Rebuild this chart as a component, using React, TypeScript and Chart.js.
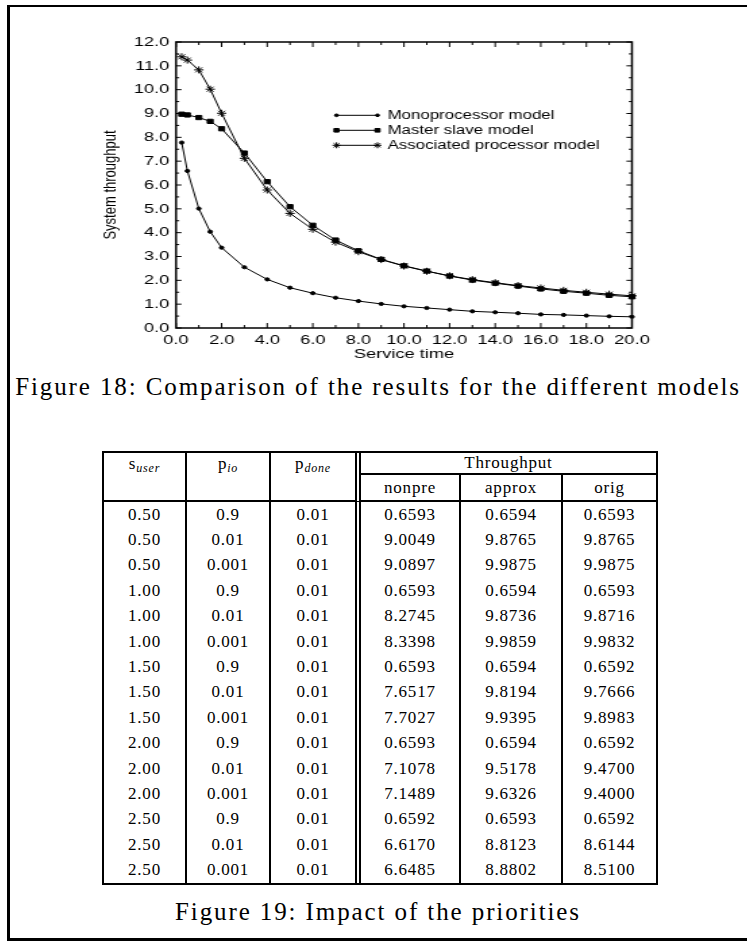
import React, { useEffect, useRef } from 'react';
import { Chart, registerables } from 'chart.js';
import { drawPoint } from 'chart.js/helpers';

Chart.register(...registerables);

// ---------- chart data ----------
const serviceTime = [0.25, 0.5, 1, 1.5, 2, 3, 4, 5, 6, 7, 8, 9, 10, 11, 12, 13, 14, 15, 16, 17, 18, 19, 20];
const monoprocessor = [7.78, 6.59, 5.01, 4.04, 3.37, 2.55, 2.04, 1.69, 1.46, 1.27, 1.13, 1.01, 0.91, 0.84, 0.77, 0.70, 0.66, 0.62, 0.57, 0.55, 0.52, 0.49, 0.47];
const masterSlave = [8.97, 8.94, 8.83, 8.67, 8.36, 7.34, 6.14, 5.09, 4.31, 3.69, 3.24, 2.88, 2.61, 2.39, 2.18, 2.01, 1.88, 1.76, 1.64, 1.54, 1.46, 1.37, 1.31];
const associated = [11.38, 11.24, 10.83, 10.02, 9.01, 7.12, 5.79, 4.81, 4.14, 3.60, 3.20, 2.87, 2.60, 2.38, 2.19, 2.03, 1.90, 1.78, 1.68, 1.58, 1.50, 1.42, 1.35];
const seriesLabels = ['Monoprocessor model', 'Master slave model', 'Associated processor model'];
const xTickValues = [0, 2, 4, 6, 8, 10, 12, 14, 16, 18, 20];
const yTickValues = [0, 1, 2, 3, 4, 5, 6, 7, 8, 9, 10, 11, 12];
const xAxisTitle = 'Service time';
const yAxisTitle = 'System throughput';

// ---------- table data ----------
const sUser = ['0.50', '0.50', '0.50', '1.00', '1.00', '1.00', '1.50', '1.50', '1.50', '2.00', '2.00', '2.00', '2.50', '2.50', '2.50'];
const pIo = ['0.9', '0.01', '0.001', '0.9', '0.01', '0.001', '0.9', '0.01', '0.001', '0.9', '0.01', '0.001', '0.9', '0.01', '0.001'];
const pDone = ['0.01', '0.01', '0.01', '0.01', '0.01', '0.01', '0.01', '0.01', '0.01', '0.01', '0.01', '0.01', '0.01', '0.01', '0.01'];
const nonpre = ['0.6593', '9.0049', '9.0897', '0.6593', '8.2745', '8.3398', '0.6593', '7.6517', '7.7027', '0.6593', '7.1078', '7.1489', '0.6592', '6.6170', '6.6485'];
const approx = ['0.6594', '9.8765', '9.9875', '0.6594', '9.8736', '9.9859', '0.6594', '9.8194', '9.9395', '0.6594', '9.5178', '9.6326', '0.6593', '8.8123', '8.8802'];
const orig = ['0.6593', '9.8765', '9.9875', '0.6593', '9.8716', '9.9832', '0.6592', '9.7666', '9.8983', '0.6592', '9.4700', '9.4000', '0.6592', '8.6144', '8.5100'];

const caption18 = 'Figure 18: Comparison of the results for the different models';
const caption19 = 'Figure 19: Impact of the priorities';

// ---------- layout ----------
const SANS = "'Liberation Sans', Arial, Helvetica, sans-serif";
const SERIF = "'Liberation Serif', 'Times New Roman', serif";
const STRETCH = 1.35;
const CANVAS_LEFT = 40;
const CANVAS_TOP = 20;
const CANVAS_W = 489;
const CANVAS_H = 350;

const framePlugin = {
  id: 'frameTicks',
  beforeDatasetsDraw(chart: any) {
    const { ctx, chartArea } = chart;
    const { left, right, top, bottom } = chartArea;
    const xs = chart.scales.x;
    const ys = chart.scales.y;
    ctx.save();
    ctx.strokeStyle = '#000';
    ctx.lineWidth = 1.5;
    ctx.strokeRect(left, top, right - left, bottom - top);
    ctx.lineWidth = 1;
    const yMinor = yTickValues.slice(1).map((v, i) => (v + yTickValues[i]) / 2);
    const xMinor = xTickValues.slice(1).map((v, i) => (v + xTickValues[i]) / 2);
    const hMajor = 4.1, hMinor = 2.4, vMajor = 5, vMinor = 3;
    ctx.beginPath();
    const yTick = (v: number, len: number) => {
      const py = ys.getPixelForValue(v);
      ctx.moveTo(left, py); ctx.lineTo(left + len, py);
      ctx.moveTo(right, py); ctx.lineTo(right - len, py);
    };
    const xTick = (v: number, len: number) => {
      const px = xs.getPixelForValue(v);
      ctx.moveTo(px, bottom); ctx.lineTo(px, bottom - len);
      ctx.moveTo(px, top); ctx.lineTo(px, top + len);
    };
    yTickValues.forEach((v) => yTick(v, hMajor));
    yMinor.forEach((v) => yTick(v, hMinor));
    xTickValues.forEach((v) => xTick(v, vMajor));
    xMinor.forEach((v) => xTick(v, vMinor));
    ctx.stroke();
    ctx.restore();
  },
};

const legendPlugin = {
  id: 'lineLegend',
  afterDraw(chart: any) {
    const { ctx } = chart;
    const x1 = 219.6, x2 = 250, tx = 257.4, y0 = 95.3, row = 15;
    chart.data.datasets.forEach((ds: any, i: number) => {
      const y = y0 + i * row;
      ctx.save();
      ctx.strokeStyle = '#000';
      ctx.fillStyle = '#000';
      ctx.lineWidth = 1;
      ctx.beginPath();
      ctx.moveTo(x1, y);
      ctx.lineTo(x2, y);
      ctx.stroke();
      const opts = { pointStyle: ds.pointStyle, radius: ds.pointRadius * 0.85, borderWidth: ds.pointBorderWidth, rotation: 0 };
      drawPoint(ctx, opts, x1, y);
      drawPoint(ctx, opts, x2, y);
      ctx.font = `12.5px ${SANS}`;
      ctx.textAlign = 'left';
      ctx.textBaseline = 'middle';
      ctx.fillText(ds.label, tx, y);
      ctx.restore();
    });
  },
};

function ThroughputChart() {
  const ref = useRef<HTMLCanvasElement | null>(null);
  useEffect(() => {
    if (!ref.current) return;
    const mk = (vals: number[]) => serviceTime.map((x, i) => ({ x, y: vals[i] }));
    const common = {
      borderColor: '#000',
      backgroundColor: '#000',
      pointBackgroundColor: '#000',
      pointBorderColor: '#000',
      borderWidth: 1,
      tension: 0,
      fill: false,
      clip: false as any,
    };
    const tickFont = { family: SANS, size: 13.5 };
    const chart = new Chart(ref.current, {
      type: 'line',
      data: {
        datasets: [
          { ...common, label: seriesLabels[0], data: mk(monoprocessor), pointStyle: 'circle', pointRadius: 1.6, pointBorderWidth: 1 },
          { ...common, label: seriesLabels[1], data: mk(masterSlave), pointStyle: 'rect', pointRadius: 3, pointBorderWidth: 1 },
          { ...common, label: seriesLabels[2], data: mk(associated), pointStyle: 'star', pointRadius: 3.5, pointBorderWidth: 1 },
        ] as any,
      },
      options: {
        animation: false,
        responsive: false,
        devicePixelRatio: 1,
        events: [],
        layout: { padding: { left: 36, right: CANVAS_W - 438.5, top: 22, bottom: 0 } },
        plugins: { legend: { display: false }, tooltip: { enabled: false } },
        scales: {
          x: {
            type: 'linear',
            min: 0,
            max: 20,
            afterBuildTicks: (s: any) => { s.ticks = xTickValues.map((v) => ({ value: v })); },
            afterFit: (s: any) => { s.height = 42; },
            grid: { display: false, drawTicks: false },
            border: { display: false },
            ticks: { font: tickFont, color: '#000', padding: 4, maxRotation: 0, autoSkip: false, callback: (v: any) => Number(v).toFixed(1) },
            title: { display: true, text: xAxisTitle, color: '#000', font: { family: SANS, size: 13.5 }, padding: { top: 0, bottom: 8 } },
          },
          y: {
            type: 'linear',
            min: 0,
            max: 12,
            afterBuildTicks: (s: any) => { s.ticks = yTickValues.map((v) => ({ value: v })); },
            afterFit: (s: any) => { s.width = 64.74; },
            grid: { display: false, drawTicks: false },
            border: { display: false },
            ticks: { font: tickFont, color: '#000', padding: 5, autoSkip: false, callback: (v: any) => Number(v).toFixed(1) },
            title: { display: true, text: yAxisTitle, color: '#000', font: { family: SANS, size: 13 }, padding: { top: 9, bottom: 0 } },
          },
        },
      } as any,
      plugins: [framePlugin, legendPlugin],
    });
    return () => chart.destroy();
  }, []);
  return (
    <canvas
      ref={ref}
      width={CANVAS_W}
      height={CANVAS_H}
      style={{
        position: 'absolute',
        left: CANVAS_LEFT,
        top: CANVAS_TOP,
        width: CANVAS_W,
        height: CANVAS_H,
        transform: `scaleX(${STRETCH})`,
        transformOrigin: '0 0',
      }}
    />
  );
}

function Sub({ base, sub }: { base: string; sub: string }) {
  return (
    <span>
      {base}
      <sub style={{ fontStyle: 'italic', fontSize: 12, lineHeight: 0, verticalAlign: '-3px', letterSpacing: '0.8px' }}>{sub}</sub>
    </span>
  );
}

function PriorityTable() {
  const colWidths = [83, 84, 90, 100, 102, 93];
  const rightBorders = ['2px solid #000', '2px solid #000', '6px double #000', '2px solid #000', '2px solid #000', 'none'];
  const base: React.CSSProperties = {
    padding: 0,
    textAlign: 'center',
    verticalAlign: 'middle',
    boxSizing: 'border-box',
    whiteSpace: 'nowrap',
  };
  const cols = [sUser, pIo, pDone, nonpre, approx, orig];
  return (
    <table
      style={{
        position: 'absolute',
        left: 102,
        top: 451,
        width: 556,
        tableLayout: 'fixed',
        borderCollapse: 'separate',
        borderSpacing: 0,
        border: '2px solid #000',
        fontFamily: SERIF,
        fontSize: 17,
        letterSpacing: '0.8px',
        color: '#000',
      }}
    >
      <colgroup>
        {colWidths.map((w, i) => (
          <col key={i} style={{ width: w }} />
        ))}
      </colgroup>
      <tbody>
        <tr>
          <td style={{ ...base, height: 21, borderRight: rightBorders[0] }}><Sub base="s" sub="user" /></td>
          <td style={{ ...base, height: 21, borderRight: rightBorders[1] }}><Sub base="p" sub="io" /></td>
          <td style={{ ...base, height: 21, borderRight: rightBorders[2] }}><Sub base="p" sub="done" /></td>
          <td colSpan={3} style={{ ...base, height: 21, borderBottom: '2px solid #000' }}>Throughput</td>
        </tr>
        <tr>
          {['', '', '', 'nonpre', 'approx', 'orig'].map((t, i) => (
            <td key={i} style={{ ...base, height: 27, borderRight: rightBorders[i], borderBottom: '2px solid #000' }}>{t}</td>
          ))}
        </tr>
        {sUser.map((_, r) => (
          <tr key={r}>
            {cols.map((c, i) => (
              <td key={i} style={{ ...base, height: 25.4, borderRight: rightBorders[i] }}>{c[r]}</td>
            ))}
          </tr>
        ))}
      </tbody>
    </table>
  );
}

export default function App() {
  const captionStyle: React.CSSProperties = {
    position: 'absolute',
    left: 0,
    width: 756,
    textAlign: 'center',
    fontFamily: SERIF,
    fontSize: 25,
    lineHeight: '25px',
    letterSpacing: '1.9px',
    whiteSpace: 'nowrap',
    color: '#000',
  };
  return (
    <div
      style={{
        position: 'absolute',
        left: 0,
        top: 0,
        width: 747,
        height: 942,
        overflow: 'hidden',
        background: '#fff',
      }}
    >
      <div
        style={{
          position: 'absolute',
          left: 7,
          top: 5,
          width: 760,
          height: 936,
          boxSizing: 'border-box',
          borderLeft: '3px solid #000',
          borderTop: '2px solid #000',
          borderBottom: '3px solid #000',
        }}
      />
      <ThroughputChart />
      <div style={{ ...captionStyle, top: 374 }}>{caption18}</div>
      <PriorityTable />
      <div style={{ ...captionStyle, top: 899 }}>{caption19}</div>
    </div>
  );
}
